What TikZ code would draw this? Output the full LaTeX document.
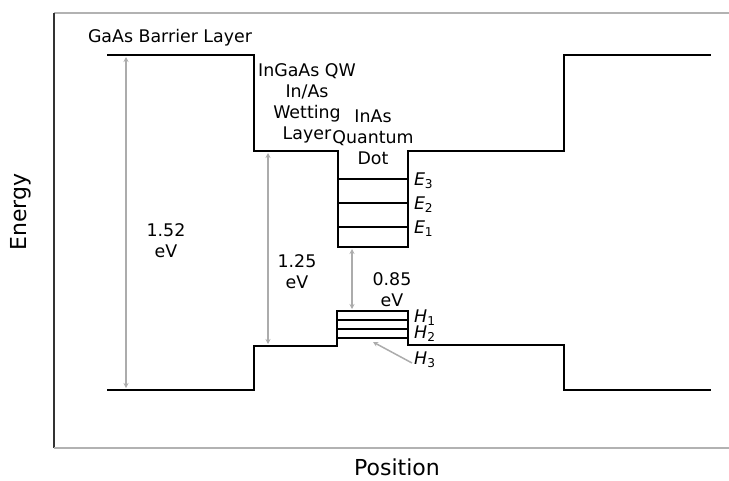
\documentclass[tikz,border=0pt]{standalone}
\usepackage{fontspec}
\setmainfont{DejaVu Sans}
\usetikzlibrary{arrows.meta}

\begin{document}
\begin{tikzpicture}[x=1pt, y=-1pt,
  band/.style={line width=2.3pt, black, line join=miter},
  level/.style={line width=2pt, black},
  gap/.style={line width=1.8pt, draw=gray!65, {Stealth[length=5pt,width=5pt]}-{Stealth[length=5pt,width=5pt]},
              shorten >=2pt, shorten <=2pt},
  pointer/.style={line width=1.5pt, draw=gray!65, -{Stealth[length=5pt,width=5pt]}},
  lbl/.style={font=\fontsize{17.4}{21}\selectfont, align=center, inner sep=0pt},
  sub/.style={font=\fontsize{17.4}{21}\selectfont, anchor=west, inner sep=0pt},
  axislbl/.style={font=\fontsize{22}{26}\selectfont, inner sep=0pt}
]
  \useasboundingbox (0,0) rectangle (729,480);

  % ===== Frame =====
  \draw[gray!60, line width=1.3pt] (729,13) -- (54,13);
  \draw[black!80, line width=1.3pt] (54,13) -- (54,448);
  \draw[gray!60, line width=1.6pt] (54,448) -- (729,448);

  % ===== Conduction band =====
  \draw[band] (107,55) -- (254,55) -- (254,151) -- (338,151) -- (338,247)
    -- (408,247) -- (408,151) -- (564,151) -- (564,55) -- (711,55);

  % Electron levels in the dot
  \foreach \y/\n in {179/3, 203/2, 227/1}
    \draw[level] (338,\y) -- (408,\y) node[sub, xshift=5pt, yshift=-2pt] (e\n) {\textit{E}\textsubscript{\n}};

  % ===== Valence band =====
  \draw[band] (107,390) -- (254,390) -- (254,346) -- (337,346) -- (337,311)
    -- (408,311) -- (408,345) -- (564,345) -- (564,390) -- (711,390);

  % Hole levels in the dot
  \foreach \y in {320, 329, 338}
    \draw[level] (337,\y) -- (408,\y);
  \node[sub] (h1) at (414,318) {\textit{H}\textsubscript{1}};
  \node[sub] (h2) at (414,334) {\textit{H}\textsubscript{2}};
  \node[sub] (h3) at (414,360) {\textit{H}\textsubscript{3}};
  \coordinate (h3tip) at (373,342);
  \draw[pointer] (h3.west) ++(-2pt,-3pt) -- (h3tip);

  % ===== Band gaps =====
  \coordinate (gaasC) at (126,55);   \coordinate (gaasV) at (126,390);
  \coordinate (qwC)   at (268,151);  \coordinate (qwV)   at (268,346);
  \coordinate (qdC)   at (352,247);  \coordinate (qdV)   at (352,311);
  \draw[gap] (gaasC) -- (gaasV);
  \draw[gap] (qwC) -- (qwV);
  \draw[gap] (qdC) -- (qdV);

  \node[lbl] (g152) at (166,241) {1.52\\eV};
  \node[lbl] (g125) at (297,272) {1.25\\eV};
  \node[lbl] (g085) at (392,290) {0.85\\eV};

  % ===== Region labels =====
  \node[lbl] (barrier) at (170,38) {GaAs Barrier Layer};
  \node[lbl] (wetting) at (307,103) {InGaAs QW\\In/As\\Wetting\\Layer};
  \node[lbl] (qdot) at (373,137) {InAs\\Quantum\\Dot};

  % ===== Axis labels =====
  \node[axislbl, rotate=90] (ylab) at (21,212) {Energy};
  \node[axislbl] (xlab) at (397,467) {Position};
\end{tikzpicture}
\end{document}
